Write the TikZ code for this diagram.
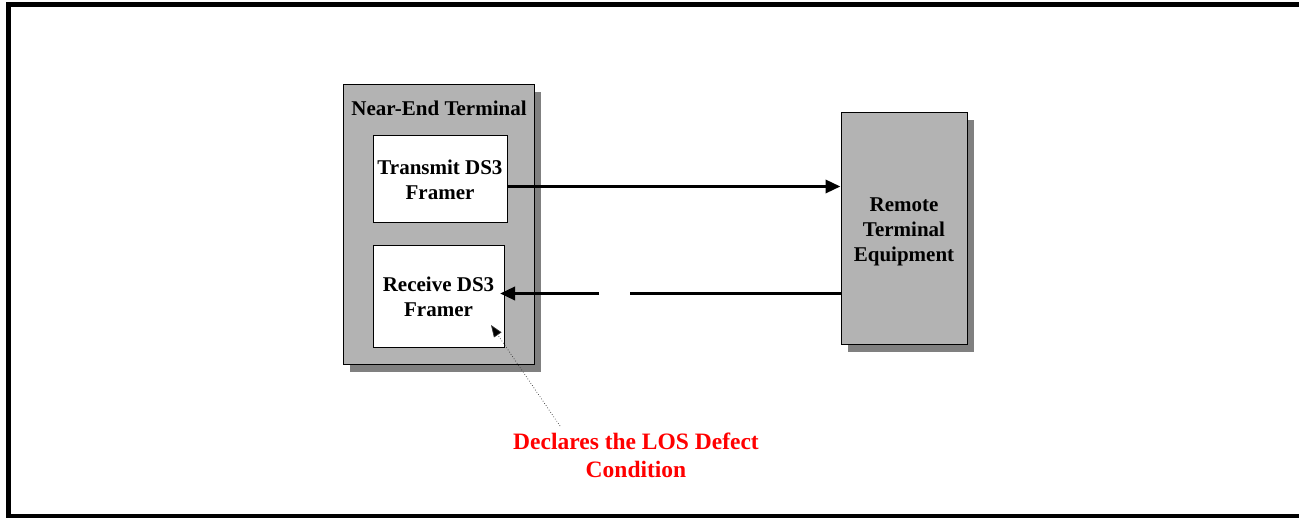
\documentclass[tikz,border=0pt]{standalone}
\usepackage{fontspec}
\setmainfont{Liberation Serif}
\usetikzlibrary{arrows.meta,shadows}
\definecolor{boxgray}{HTML}{B3B3B3}
\definecolor{shadowgray}{HTML}{808080}
\definecolor{alertred}{HTML}{FF0000}
\begin{document}
\begin{tikzpicture}[x=1pt,y=-1pt,
  lbl/.style={font=\bfseries\fontsize{21}{25}\selectfont, align=center},
  unitbox/.style={draw=black, line width=1pt, fill=boxgray, inner sep=0pt,
    drop shadow={shadow xshift=7pt, shadow yshift=-7pt, fill=shadowgray, opacity=1}},
  framerbox/.style={draw=black, line width=1pt, fill=white, inner sep=0pt, lbl},
  signal/.style={line width=3.4pt, -{Triangle[length=15pt,width=13pt]}},
  pointer/.style={draw=black!80, line width=0.7pt, dotted, -{Triangle[length=12pt,width=9pt,fill=black]}}
]
\useasboundingbox (0,0) rectangle (1299,518);
% outer frame
\draw[line width=5pt] (8,4.5) rectangle (1301,516.5);

% near-end terminal with its two framers
\node[unitbox, minimum width=191pt, minimum height=280pt] (near) at (438.5,225) {};
\node[lbl] (neartitle) at (439,108) {Near-End Terminal};
\node[framerbox, minimum width=134pt, minimum height=87pt] (tx) at (440,179.5) {Transmit DS3\\Framer};
\node[framerbox, minimum width=131pt, minimum height=102pt] (rx) at (438.5,297) {Receive DS3\\Framer};

% remote terminal
\node[unitbox, minimum width=126pt, minimum height=232pt] (remote) at (904,229) {};
\node[lbl] (remotetitle) at (904,232) {Remote\\Terminal\\Equipment};

% transmit path
\draw[signal] (tx.east |- 0,186.5) -- (remote.west |- 0,186.5);

% receive path, interrupted by the loss of signal
\coordinate (gapR) at (630,293.5);
\coordinate (gapL) at (599,293.5);
\coordinate (rxin) at (500,293.5);
\draw[line width=3.4pt] (remote.west |- gapR) -- (gapR);
\draw[signal] (gapL) -- (rxin);

% callout
\node[lbl, text=alertred, font=\bfseries\fontsize{23.5}{28}\selectfont] (note) at (636,455) {Declares the LOS Defect\\Condition};
\coordinate (notetop) at (560,426);
\coordinate (rxcorner) at (491,325);
\draw[pointer] (notetop) -- (rxcorner);
\end{tikzpicture}
\end{document}
